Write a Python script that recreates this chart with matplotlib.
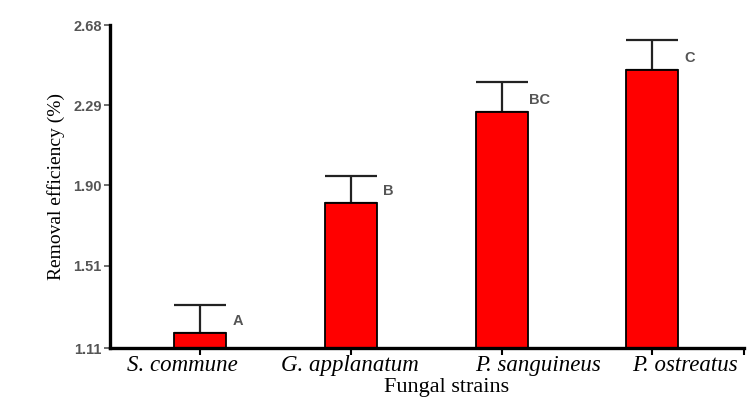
import numpy as np
import matplotlib
matplotlib.use("Agg")
import matplotlib.pyplot as plt

# ── Data ─────────────────────────────────────────────────────────────────────
strains = ["S. commune", "G. applanatum", "P. sanguineus", "P. ostreatus"]
means   = [1.183, 1.815, 2.257, 2.461]
errors  = [0.136, 0.131, 0.146, 0.146]
letters = ["A", "B", "BC", "C"]
y_ticks = [1.11, 1.51, 1.90, 2.29, 2.68]

SERIF = ["Liberation Serif", "DejaVu Serif"]
SANS  = ["Liberation Sans", "DejaVu Sans"]
GREY  = "#555555"

fig = plt.figure(figsize=(7.5, 3.97), dpi=100)
ax = fig.add_axes([0.1467, 0.1234, 0.8453, 0.8136])

x = np.arange(len(strains))
ax.bar(x, means, width=0.345, bottom=0, color="#ff0000",
       edgecolor="black", linewidth=1.3, zorder=2)
ax.errorbar(x, means, yerr=[np.zeros(len(errors)), errors], fmt="none",
            ecolor="#222222", elinewidth=1.6, capsize=19, capthick=1.6,
            zorder=1)

for xi, m, lab in zip(x, means, letters):
    ax.text(xi + 0.25, m + 0.06, lab, ha="center", va="center",
            fontsize=10.5, fontweight="bold", color=GREY, family=SANS)

ax.set_xlim(-0.6, 3.61)
ax.set_ylim(1.11, 2.68)

# axes styling (GraphPad look)
for side in ("top", "right"):
    ax.spines[side].set_visible(False)
for side in ("left", "bottom"):
    ax.spines[side].set_linewidth(2.4)

ax.set_yticks(y_ticks)
ax.set_yticklabels([f"{t:.2f}" for t in y_ticks], fontsize=10.5,
                   fontweight="bold", color=GREY, family=SANS)
ax.tick_params(axis="y", direction="out", length=4, width=1.2, color=GREY,
               pad=2)

ax.set_xticks(list(x) + [3.61])
ax.set_xticklabels([""] * (len(strains) + 1))
ax.tick_params(axis="x", direction="out", length=5, width=1.5, color="black")

# category labels (wide, squeezed together as in the original)
label_x = [-0.12, 0.99, 2.24, 3.22]
for lx, name in zip(label_x, strains):
    ax.text(lx, -0.022, name, transform=ax.get_xaxis_transform(),
            ha="center", va="top", fontsize=16.5, style="italic", family=SERIF)

fig.text(0.595, 0.0, "Fungal strains", ha="center", va="bottom",
         fontsize=16, family=SERIF)
ax.set_ylabel("Removal efficiency (%)", fontsize=14, family=SERIF,
              labelpad=6)

fig.savefig("out.png", dpi=100)
